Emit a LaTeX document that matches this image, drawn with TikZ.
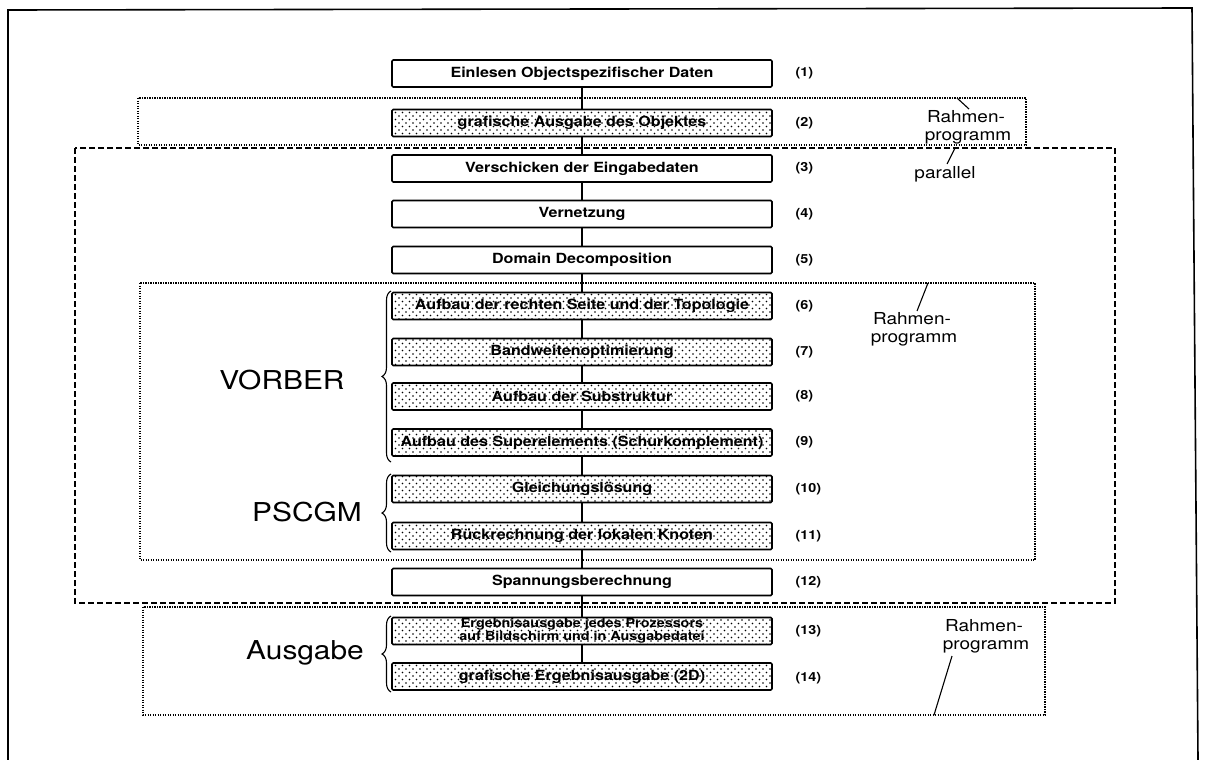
\documentclass[tikz,border=0pt]{standalone}
\usepackage{fontspec}
\setmainfont[FakeStretch=1.15]{TeX Gyre Heros}
\usetikzlibrary{patterns.meta,decorations.pathreplacing}
\tikzset{
  box/.style={draw, line width=1.6pt, rounded corners=1.2pt, minimum width=380pt, minimum height=27pt, inner sep=0pt, font=\fontsize{14}{12}\selectfont\bfseries, align=center},
  shaded/.style={box, pattern={Dots[distance=7pt, radius=0.8pt]},
    preaction={pattern={Dots[distance=7pt, radius=0.8pt, xshift=3.5pt, yshift=3.5pt]}}},
  num/.style={anchor=west, font=\fontsize{12.5}{12}\selectfont\bfseries},
  conn/.style={line width=1.4pt},
  dotframe/.style={line width=1.4pt, dash pattern=on 1.2pt off 1.3pt},
  dashframe/.style={line width=1.5pt, dash pattern=on 6pt off 3pt},
  biglab/.style={font=\fontsize{26}{28}\selectfont},
  sidelab/.style={font=\fontsize{16.5}{14}\selectfont, inner sep=0pt, anchor=base},
  lead/.style={line width=1.1pt},
  brc/.style={line width=1.1pt, decorate, decoration={brace, amplitude=9pt}}
}
\begin{document}
\begin{tikzpicture}[x=1pt, y=-1pt]
\useasboundingbox (0,0) rectangle (1207,760);
% outer frame
\draw[line width=1.6pt] (8,760) -- (8,10) -- (1192,8) -- (1198,760);
% frames
\draw[dotframe] (138,98) rectangle (1026,145);
\draw[dashframe] (75,148) rectangle (1115,603);
\draw[dotframe] (140,283) rectangle (1035,560);
\draw[dotframe] (143,607) rectangle (1045,715);
% boxes
\node[box]    (b1)  at (582,73.5)  {Einlesen Objectspezifischer Daten};
\node[shaded] (b2)  at (582,123)   {grafische Ausgabe des Objektes};
\node[box]    (b3)  at (582,168.5) {Verschicken der Eingabedaten};
\node[box]    (b4)  at (582,214)   {Vernetzung};
\node[box]    (b5)  at (582,260)   {Domain Decomposition};
\node[shaded] (b6)  at (582,306)   {Aufbau der rechten Seite und der Topologie};
\node[shaded] (b7)  at (582,352)   {Bandweitenoptimierung};
\node[shaded] (b8)  at (582,396.5) {Aufbau der Substruktur};
\node[shaded] (b9)  at (582,442.5) {Aufbau des Superelements (Schurkomplement)};
\node[shaded] (b10) at (582,489)   {Gleichungslösung};
\node[shaded] (b11) at (582,536)   {Rückrechnung der lokalen Knoten};
\node[box]    (b12) at (582,582)   {Spannungsberechnung};
\node[shaded, font=\fontsize{12.5}{11}\selectfont\bfseries] (b13) at (582,631) {Ergebnisausgabe jedes Prozessors\\auf Bildschirm und in Ausgabedatei};
\node[shaded] (b14) at (582,676.5) {grafische Ergebnisausgabe (2D)};
% connectors
\foreach \a/\b in {1/2,2/3,3/4,4/5,5/6,6/7,7/8,8/9,9/10,10/11,11/12,12/13,13/14}
  \draw[conn] (b\a.south) -- (b\b.north);
% numbers
\foreach \i/\y in {1/73.5,2/123,3/168.5,4/214,5/260,6/306,7/352,8/396.5,9/442.5,10/489,11/536,12/582,13/631,14/678}
  \node[num] (n\i) at (792,\y) {(\i)};
% braces and group labels
\coordinate (v1) at (391,462);
\coordinate (v2) at (391,291);
\draw[brc] (v1) -- (v2);
\node[biglab] (vorber) at (282,380) {VORBER};
\coordinate (p1) at (391,552);
\coordinate (p2) at (391,474);
\draw[brc] (p1) -- (p2);
\node[biglab] (pscgm) at (307,512) {PSCGM};
\coordinate (a1) at (391,692);
\coordinate (a2) at (391,616);
\draw[brc] (a1) -- (a2);
\node[biglab] (ausgabe) at (305,653) {Ausgabe};
% side labels
\node[sidelab] (r1a) at (966,122) {Rahmen-};
\node[sidelab] (r1b) at (968,140) {programm};
\coordinate (r1e) at (957,98);
\draw[lead] (r1e) -- (969,109);
\node[sidelab] (par) at (945,178) {parallel};
\coordinate (pare) at (955,148);
\draw[lead] (pare) -- (947,164);
\node[sidelab] (r2a) at (912,324) {Rahmen-};
\node[sidelab] (r2b) at (914,342) {programm};
\coordinate (r2e) at (928,283);
\draw[lead] (r2e) -- (917,311);
\node[sidelab] (r3a) at (984,631) {Rahmen-};
\node[sidelab] (r3b) at (986,649) {programm};
\coordinate (r3e) at (934,715);
\draw[lead] (r3e) -- (952,656);
\end{tikzpicture}
\end{document}
